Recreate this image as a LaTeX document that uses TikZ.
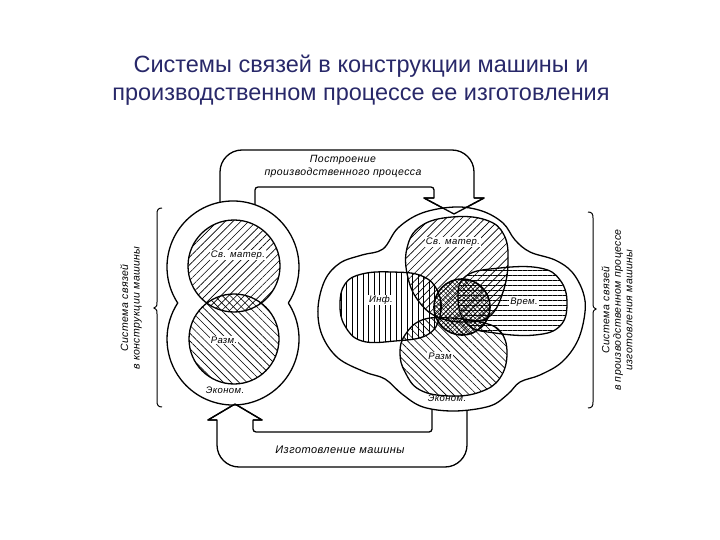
\documentclass[tikz,border=0pt]{standalone}
\usepackage{fontspec}
\setmainfont{Liberation Sans}
\newfontfamily\lab[LetterSpace=4]{Liberation Sans}
\usetikzlibrary{patterns.meta}
\definecolor{titleblue}{RGB}{40,40,105}
\begin{document}
\begin{tikzpicture}[x=1pt,y=-1pt,
  outl/.style={line width=1.3pt,black,line join=round},
  hne/.style={pattern={Lines[angle=45,distance=5.5pt,line width=0.65pt]}},
  hnw/.style={pattern={Lines[angle=-45,distance=5.5pt,line width=0.65pt]}},
  hvert/.style={pattern={Lines[angle=90,distance=5.5pt,line width=0.65pt]}},
  hhor/.style={pattern={Lines[angle=0,distance=5pt,line width=0.65pt]}},
  lbl/.style={font=\lab\itshape\fontsize{9.5}{10}\selectfont,fill=white,inner sep=1pt},
  plain/.style={font=\lab\itshape\fontsize{9.5}{10}\selectfont},
  side/.style={font=\lab\itshape\fontsize{10.5}{11.5}\selectfont,align=center,rotate=90},
  ttl/.style={text=titleblue,font=\fontsize{23.5}{26}\selectfont}]
\useasboundingbox (0,0) rectangle (720,540);
% title
\node[ttl] (t1) at (361,66) {Системы связей в конструкции машины и};
\node[ttl] (t2) at (361,97) {производственном процессе ее изготовления};
% upper band arrow
\draw[outl] (220,215) -- (220,172) arc[start angle=180,end angle=270,radius=22]
  -- (452,150) arc[start angle=270,end angle=360,radius=22] -- (474,198)
  -- (484,198) -- (454,214) -- (424,198) -- (434,198) -- (434,190)
  arc[start angle=0,end angle=-90,radius=3] -- (258,187)
  arc[start angle=270,end angle=180,radius=3] -- (255,215);
% lower band arrow
\draw[outl] (467,400) -- (467,445) arc[start angle=0,end angle=90,radius=22]
  -- (239,467) arc[start angle=90,end angle=180,radius=22] -- (217,420)
  -- (208,420) -- (235,404) -- (262,420) -- (253,420) -- (253,429)
  arc[start angle=180,end angle=90,radius=3] -- (429,432)
  arc[start angle=90,end angle=0,radius=3] -- (432,400);
% left figure
\fill[white] (233,267) circle[radius=66] (233,339) circle[radius=66];
\draw[outl,hne] (234,266) circle[radius=46];
\draw[outl,hnw] (234,339) circle[radius=45];
\draw[outl] (177.7,303) arc[start angle=146.93,end angle=393.07,radius=66]
  arc[start angle=-33.07,end angle=213.07,radius=66] -- cycle;
% right figure
\fill[white] plot[smooth cycle,tension=0.6] coordinates {(455,207) (482,211) (503,223) (515,240) (530,252) (555,260) (572,272) (583,292) (585,312) (578,340) (562,362) (540,375) (520,382) (508,394) (490,406) (455,411) (423,407) (402,394) (385,379) (365,372) (338,358) (322,335) (318,308) (325,280) (340,263) (362,255) (383,249) (398,228) (422,213)};
\draw[outl,hne] plot[smooth cycle,tension=0.7] coordinates {(407,248) (421,226) (452,217) (486,220) (504,235) (508,262) (503,292) (490,316) (468,322) (440,318) (420,303) (408,278)};
\draw[outl,hvert] plot[smooth cycle,tension=0.7] coordinates {(345,284) (362,274) (392,272) (422,276) (438,292) (440,316) (427,335) (395,341) (362,341) (345,326) (340,305)};
\draw[outl,hhor] plot[smooth cycle,tension=0.7] coordinates {(466,276) (500,268) (540,268) (560,280) (567,303) (560,326) (535,335) (495,333) (468,325) (458,300)};
\draw[outl,hnw] plot[smooth cycle,tension=0.7] coordinates {(405,335) (422,320) (450,318) (480,322) (500,331) (507,353) (500,378) (480,392) (450,396) (420,390) (405,372) (400,353)};
\draw[line width=1.6pt,pattern={Lines[angle=45,distance=3.2pt,line width=0.5pt]}] (462,307) circle[radius=28];
\fill[pattern={Lines[angle=-45,distance=3.2pt,line width=0.5pt]}] (462,307) circle[radius=28];
\draw[outl] plot[smooth cycle,tension=0.6] coordinates {(455,207) (482,211) (503,223) (515,240) (530,252) (555,260) (572,272) (583,292) (585,312) (578,340) (562,362) (540,375) (520,382) (508,394) (490,406) (455,411) (423,407) (402,394) (385,379) (365,372) (338,358) (322,335) (318,308) (325,280) (340,263) (362,255) (383,249) (398,228) (422,213)};
% arrowheads on top
\draw[outl] (434,198) -- (424,198) -- (454,214) -- (484,198) -- (474,198);
\draw[outl] (217,420) -- (208,420) -- (235,404) -- (262,420) -- (253,420);
% labels
\node[font=\lab\itshape\fontsize{10.5}{13}\selectfont,align=center] (ab) at (343,166) {Построение\\производственного процесса};
\node[font=\lab\itshape\fontsize{11}{12}\selectfont] (bl) at (340,450) {Изготовление машины};
\node[lbl] (l1) at (238,255) {Св. матер.};
\node[lbl] (l2) at (224,340) {Разм.};
\node[plain] (l3) at (225,390) {Эконом.};
\node[lbl] (r1) at (453,242) {Св. матер.};
\node[lbl] (r2) at (381,300) {Инф.};
\node[lbl] (r3) at (524,302) {Врем.};
\node[lbl] (r4) at (440,356) {Разм};
\node[plain] (r5) at (447,398) {Эконом.};
% braces
\draw[line width=1pt] (162,208) .. controls (158,208) and (157,210) .. (157,214) -- (157,302) .. controls (157,306) .. (154,308) .. controls (157,310) .. (157,314) -- (157,401) .. controls (157,405) and (158,407) .. (162,407);
\draw[line width=1pt] (588,212) .. controls (592,212) and (593,214) .. (593,218) -- (593,304) .. controls (593,307) .. (596,309) .. controls (593,311) .. (593,314) -- (593,402) .. controls (593,406) and (592,408) .. (588,408);
\node[side] (sl) at (131,308) {Система связей\\в конструкции машины};
\node[side] (sr) at (617,310) {Система связей\\в производственном процессе\\изготовления машины};
\end{tikzpicture}
\end{document}
